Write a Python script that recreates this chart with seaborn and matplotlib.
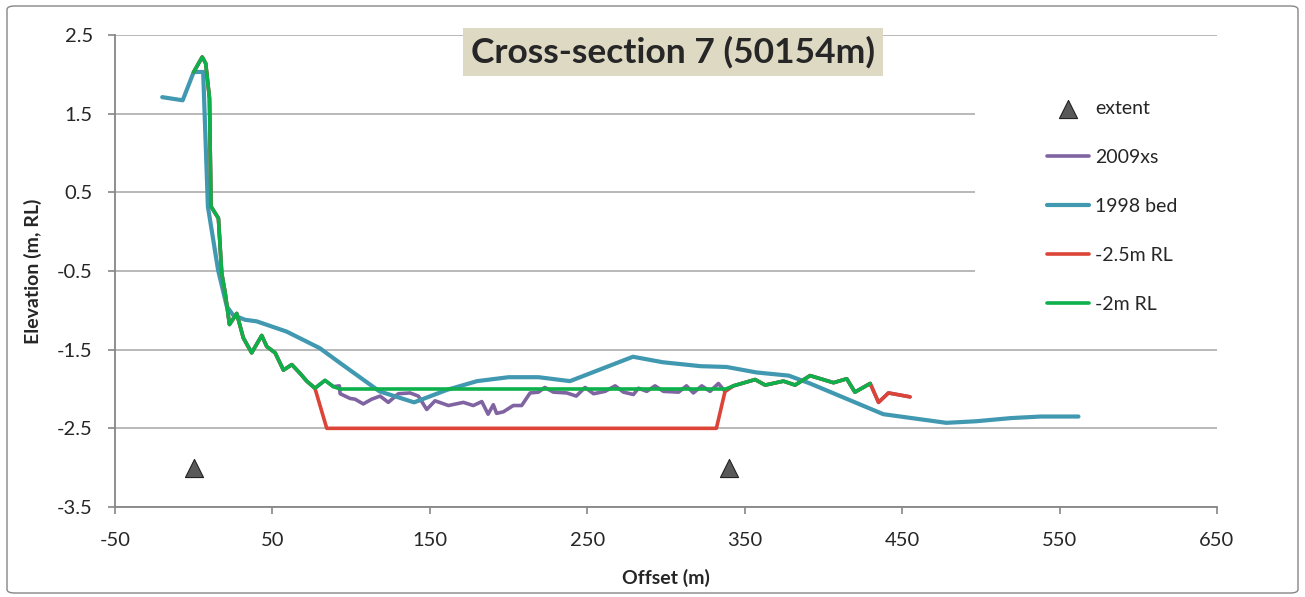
import numpy as np
import pandas as pd
import matplotlib.pyplot as plt
import seaborn as sns
from matplotlib.patches import Rectangle, FancyBboxPatch

# extent markers
extent_x = [0, 340]
extent_y = [-3.0, -3.0]

# 2009 cross-section survey
xs2009_x = [0, 5.4, 7.6, 10, 11, 15.7, 17.8, 20, 22.7, 27.3, 31.5, 36.8, 43.2, 46.4,
            51.7, 57, 62.3, 67.5, 71.8, 77, 83.4, 88.7, 92.5, 93, 99.3, 102.5, 107.7,
            113, 118.4, 123.6, 130, 137.4, 142.7, 148, 153.3, 161.8, 171.3, 177.6, 183,
            187, 190.3, 192.4, 196.7, 203, 208.3, 213.7, 219, 223, 228.5, 237, 243,
            248.6, 254, 261.3, 267.7, 273, 279.3, 282.5, 287.8, 293, 298.4, 308, 313,
            317.4, 322.7, 328, 333.3, 337.5, 342.8, 356.6, 363, 374.6, 382, 391.5,
            406.4, 414.8, 420, 429.7, 435, 441.3, 455]
xs2009_y = [2.03, 2.22, 2.14, 1.70, 0.32, 0.17, -0.53, -0.78, -1.18, -1.04, -1.35, -1.54,
            -1.32, -1.46, -1.54, -1.76, -1.69, -1.80, -1.90, -1.99, -1.89, -1.97, -1.96,
            -2.06, -2.12, -2.13, -2.19, -2.13, -2.09, -2.17, -2.06, -2.05, -2.09, -2.26,
            -2.15, -2.21, -2.17, -2.21, -2.16, -2.32, -2.20, -2.31, -2.29, -2.21, -2.21,
            -2.05, -2.04, -1.98, -2.04, -2.05, -2.09, -1.98, -2.06, -2.03, -1.96, -2.04,
            -2.07, -1.99, -2.03, -1.96, -2.03, -2.04, -1.96, -2.05, -1.96, -2.03, -1.93,
            -2.03, -1.96, -1.88, -1.95, -1.90, -1.95, -1.83, -1.92, -1.87, -2.04, -1.93,
            -2.17, -2.05, -2.10]

# 1998 bed
bed1998_x = [-20, -7, 0, 6, 9, 15.5, 21, 25, 32.6, 40, 59, 80, 93, 118, 140, 161, 180,
             200, 219, 239, 279, 298, 322, 338.5, 357.6, 378, 391.5, 438, 478, 497, 519,
             538, 562]
bed1998_y = [1.71, 1.67, 2.03, 2.03, 0.32, -0.49, -0.95, -1.06, -1.12, -1.14, -1.27,
             -1.48, -1.67, -2.03, -2.17, -2.01, -1.90, -1.85, -1.85, -1.90, -1.59, -1.66,
             -1.71, -1.72, -1.79, -1.83, -1.93, -2.32, -2.43, -2.41, -2.37, -2.35, -2.35]

# dredge levels: flat section and where they rejoin the 2009 survey
rl25_level = -2.5
rl25_flat = [84.5, 332]
rl25_bank = [77, 337.5]
rl2_level = -2.0
rl2_flat = [93, 338]
rl2_bank = [88.7, 342.8]
rl2_end = 429.7

px = np.array(xs2009_x)
py = np.array(xs2009_y)
lft = px <= rl25_bank[0]
rgt = px >= rl25_bank[1]
rl25_x = np.concatenate([px[lft], rl25_flat, px[rgt]])
rl25_y = np.concatenate([py[lft], [rl25_level] * 2, py[rgt]])
lft = px <= rl2_bank[0]
rgt = (px >= rl2_bank[1]) & (px <= rl2_end)
rl2_x = np.concatenate([px[lft], rl2_flat, px[rgt]])
rl2_y = np.concatenate([py[lft], [rl2_level] * 2, py[rgt]])

sns.set_style("white")
plt.rcParams['font.family'] = ['Lato', 'DejaVu Sans']
plt.rcParams['axes.unicode_minus'] = False

fig = plt.figure(figsize=(13.05, 5.97), dpi=100)
ax = fig.add_axes([115 / 1305, 1 - 507 / 597, 1102 / 1305, 472 / 597])

sns.scatterplot(x=extent_x, y=extent_y, marker='^', s=170, color='#595959',
                edgecolor='#222222', linewidth=0.8, label='extent', ax=ax, zorder=5)
lw = 2.6
sns.lineplot(x=xs2009_x, y=xs2009_y, color='#8064A2', lw=lw, sort=False,
             label='2009xs', ax=ax, zorder=3)
sns.lineplot(x=bed1998_x, y=bed1998_y, color='#4198B1', lw=lw + 0.4, sort=False,
             label='1998 bed', ax=ax, zorder=3)
sns.lineplot(x=rl25_x, y=rl25_y, color='#DB4437', lw=lw, sort=False,
             label='-2.5m RL', ax=ax, zorder=3)
sns.lineplot(x=rl2_x, y=rl2_y, color='#0DB04B', lw=lw, sort=False,
             label='-2m RL', ax=ax, zorder=3)

ax.set_xlim(-50, 650)
ax.set_ylim(-3.5, 2.5)
ax.set_xticks(np.arange(-50, 651, 100))
ax.set_yticks(np.arange(-3.5, 2.51, 1.0))
ax.set_yticklabels([f"{v:.1f}" for v in np.arange(-3.5, 2.51, 1.0)])
ax.set_axisbelow(True)
ax.yaxis.grid(True, color='#B3B3B3', lw=1.3)
for s in ['top', 'right']:
    ax.spines[s].set_visible(False)
for s in ['left', 'bottom']:
    ax.spines[s].set_color('#868686')
    ax.spines[s].set_linewidth(1.3)
ax.tick_params(axis='both', direction='out', length=5, width=1.2, color='#868686',
               labelsize=14.5, left=True, bottom=True)
ax.tick_params(axis='x', pad=13)
ax.tick_params(axis='y', pad=11)
ax.set_xlabel('Offset (m)', fontsize=14, fontweight='bold', labelpad=14)
ax.set_ylabel('Elevation (m, RL)', fontsize=14, fontweight='bold', labelpad=11)

# white legend panel covering the grid
ax.add_patch(Rectangle((0.78, 0.364), 0.22, 0.55, transform=ax.transAxes,
                       facecolor='white', edgecolor='none', zorder=1))
ax.legend(loc='upper left', bbox_to_anchor=(1047 / 1305, 1 - 100 / 597),
          bbox_transform=fig.transFigure, frameon=False, fontsize=14,
          handlelength=2.15, handletextpad=0.31, labelspacing=1.64,
          borderpad=0, borderaxespad=0)

fig.text(673 / 1305, 1 - 52 / 597, 'Cross-section 7 (50154m)', fontsize=25.5,
         fontweight='bold', ha='center', va='center',
         bbox=dict(boxstyle='square,pad=0.22', fc='#DDD9C3', ec='none'))

fig.patches.append(FancyBboxPatch((7 / 1305, 4 / 597), 1291 / 1305, 587 / 597,
                                  boxstyle='round,pad=0,rounding_size=0.006',
                                  transform=fig.transFigure, fill=False,
                                  edgecolor='#868686', lw=1))

fig.savefig('out.png', dpi=100, facecolor='white')
